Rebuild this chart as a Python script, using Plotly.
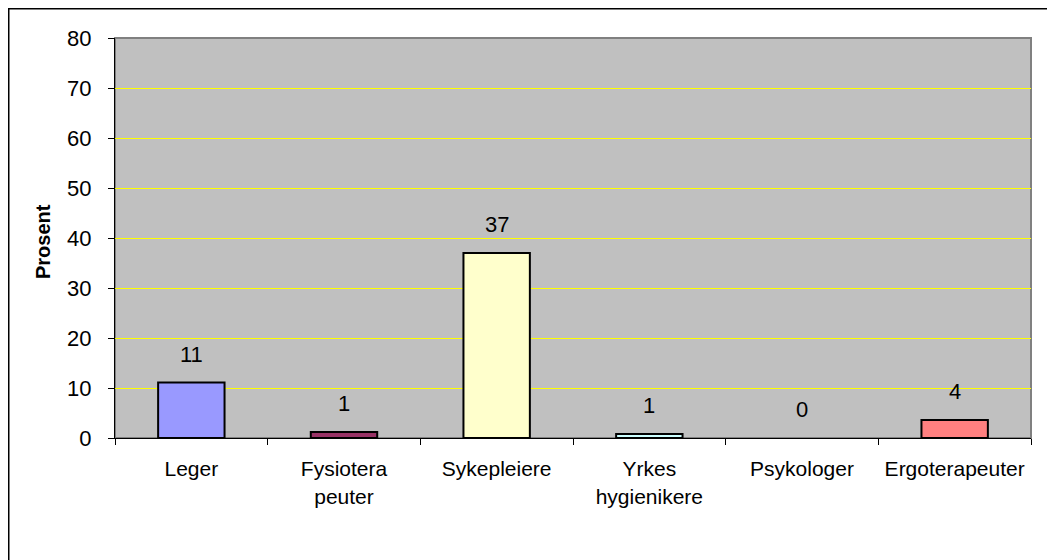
import plotly.graph_objects as go

categories = ["Leger", "Fysiotera<br>peuter", "Sykepleiere", "Yrkes<br>hygienikere", "Psykologer", "Ergoterapeuter"]
values = [11.1, 1.2, 37.0, 0.8, 0.0, 3.6]
labels = ["11", "1", "37", "1", "0", "4"]
colors = ["#9999FF", "#993366", "#FFFFCC", "#CCFFFF", "#C0C0C0", "#FF8080"]

# the page has an 8px body margin, so the figure is a bit smaller than the window
W, H = 1047, 552
L, R, T, B = 107, 24, 30, 122
pw, ph = W - L - R, H - T - B

# empty bars get no outline (like the original)
outline = [2 if v > 0 else 0 for v in values]

fig = go.Figure()
fig.add_trace(go.Bar(
    x=categories, y=values,
    marker=dict(color=colors, line=dict(color="black", width=outline)),
    showlegend=False, hoverinfo="skip",
))

# data labels above each bar
for c, v, t in zip(categories, values, labels):
    fig.add_annotation(x=c, y=v, text=t, showarrow=False, yanchor="bottom",
                       yshift=14, font=dict(size=22, color="black"))

# y axis title
fig.add_annotation(xref="paper", yref="paper", x=(35 - L) / pw, y=0.49,
                   text="<b>Prosent</b>", textangle=-90, showarrow=False,
                   xanchor="center", yanchor="middle", font=dict(size=20))

fig.update_layout(
    width=W, height=H,
    margin=dict(l=L, r=R, t=T, b=B),
    paper_bgcolor="white", plot_bgcolor="#C0C0C0",
    font=dict(family="Liberation Sans, Arial, sans-serif", color="black"),
    bargap=0.565,
    shapes=[
        # gray plot-area frame
        dict(type="rect", xref="paper", yref="paper", x0=0, x1=1, y0=0, y1=1,
             line=dict(color="#808080", width=2), layer="below"),
        # outer chart border
        dict(type="rect", xref="paper", yref="paper",
             x0=(0 - L) / pw, x1=(1070 - L) / pw,
             y0=-(575 - (T + ph)) / ph, y1=1 + T / ph,
             line=dict(color="black", width=3)),
    ],
)
fig.update_xaxes(
    showline=True, linecolor="black", linewidth=1,
    ticks="outside", tickson="boundaries", ticklen=6, tickcolor="black",
    tickfont=dict(size=21), showgrid=False, ticklabelstandoff=12,
)
fig.update_yaxes(
    range=[0, 80], dtick=10,
    showline=True, linecolor="black", linewidth=1,
    ticks="outside", ticklen=6, tickcolor="black",
    tickfont=dict(size=22), ticklabelstandoff=12,
    showgrid=True, gridcolor="#FFFF00", gridwidth=1, zeroline=False,
)

fig.write_html("out.html")
